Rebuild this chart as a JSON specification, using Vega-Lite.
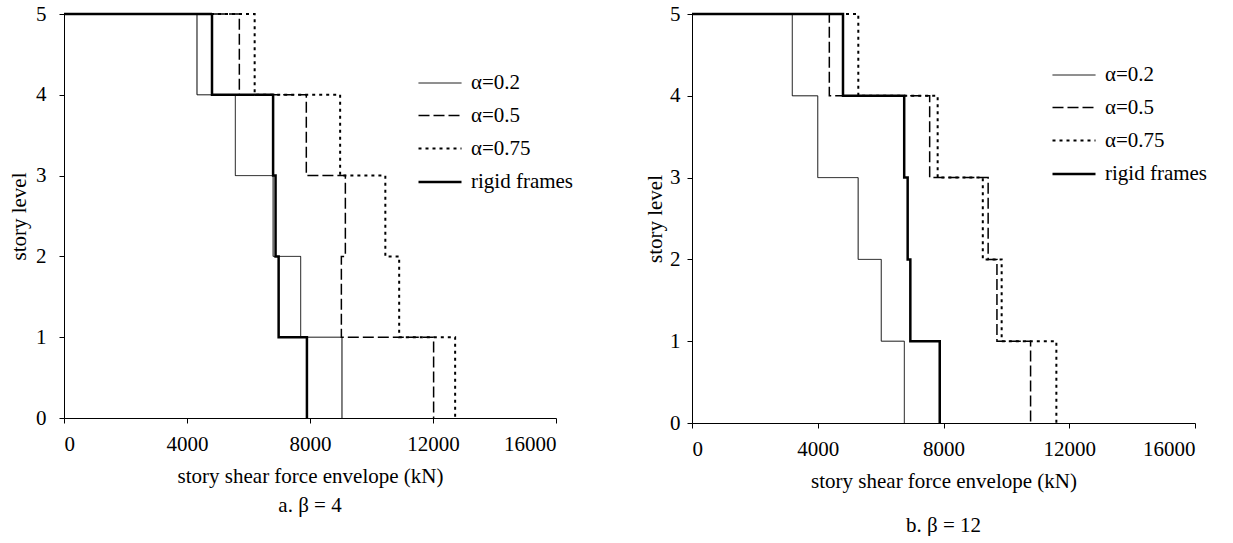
{
  "$schema": "https://vega.github.io/schema/vega-lite/v6.json",
  "background": "white",
  "padding": {"left": 8, "top": 3, "right": 5, "bottom": 0},
  "config": {
    "font": "Liberation Serif",
    "view": {"stroke": null},
    "axis": {
      "labelFont": "Liberation Serif", "titleFont": "Liberation Serif",
      "labelFontSize": 21, "titleFontSize": 21, "titleFontWeight": "normal",
      "labelColor": "black", "titleColor": "black", "domainColor": "black", "tickColor": "black",
      "grid": false, "tickSize": 5, "domainWidth": 1, "tickWidth": 1
    },
    "legend": {
      "labelFont": "Liberation Serif", "labelFontSize": 21, "labelColor": "black",
      "symbolType": "stroke", "symbolStrokeColor": "black", "symbolSize": 1849,
      "labelOffset": 8, "rowPadding": -7, "orient": "none", "title": null
    },
    "title": {"font": "Liberation Serif", "fontSize": 21, "fontWeight": "normal", "color": "black"}
  },
  "datasets": {
    "beta4": [
      {"series": "α=0.2", "level": 5, "shear": 0},
      {"series": "α=0.2", "level": 4, "shear": 4325},
      {"series": "α=0.2", "level": 3, "shear": 5572},
      {"series": "α=0.2", "level": 2, "shear": 6800},
      {"series": "α=0.2", "level": 1, "shear": 7697},
      {"series": "α=0.2", "level": 0, "shear": 9040},
      {"series": "α=0.5", "level": 5, "shear": 0},
      {"series": "α=0.5", "level": 4, "shear": 5702},
      {"series": "α=0.5", "level": 3, "shear": 7880},
      {"series": "α=0.5", "level": 2, "shear": 9150},
      {"series": "α=0.5", "level": 1, "shear": 9020},
      {"series": "α=0.5", "level": 0, "shear": 12020},
      {"series": "α=0.75", "level": 5, "shear": 0},
      {"series": "α=0.75", "level": 4, "shear": 6200},
      {"series": "α=0.75", "level": 3, "shear": 8980},
      {"series": "α=0.75", "level": 2, "shear": 10450},
      {"series": "α=0.75", "level": 1, "shear": 10900},
      {"series": "α=0.75", "level": 0, "shear": 12720},
      {"series": "rigid frames", "level": 5, "shear": 0},
      {"series": "rigid frames", "level": 4, "shear": 4813},
      {"series": "rigid frames", "level": 3, "shear": 6800},
      {"series": "rigid frames", "level": 2, "shear": 6880},
      {"series": "rigid frames", "level": 1, "shear": 6980},
      {"series": "rigid frames", "level": 0, "shear": 7900}
    ],
    "beta12": [
      {"series": "α=0.2", "level": 5, "shear": 0},
      {"series": "α=0.2", "level": 4, "shear": 3190},
      {"series": "α=0.2", "level": 3, "shear": 4000},
      {"series": "α=0.2", "level": 2, "shear": 5285},
      {"series": "α=0.2", "level": 1, "shear": 6020},
      {"series": "α=0.2", "level": 0, "shear": 6754},
      {"series": "α=0.5", "level": 5, "shear": 0},
      {"series": "α=0.5", "level": 4, "shear": 4368},
      {"series": "α=0.5", "level": 3, "shear": 7560},
      {"series": "α=0.5", "level": 2, "shear": 9420},
      {"series": "α=0.5", "level": 1, "shear": 9700},
      {"series": "α=0.5", "level": 0, "shear": 10770},
      {"series": "α=0.75", "level": 5, "shear": 0},
      {"series": "α=0.75", "level": 4, "shear": 5290},
      {"series": "α=0.75", "level": 3, "shear": 7814},
      {"series": "α=0.75", "level": 2, "shear": 9250},
      {"series": "α=0.75", "level": 1, "shear": 9850},
      {"series": "α=0.75", "level": 0, "shear": 11590},
      {"series": "rigid frames", "level": 5, "shear": 0},
      {"series": "rigid frames", "level": 4, "shear": 4803},
      {"series": "rigid frames", "level": 3, "shear": 6750},
      {"series": "rigid frames", "level": 2, "shear": 6860},
      {"series": "rigid frames", "level": 1, "shear": 6945},
      {"series": "rigid frames", "level": 0, "shear": 7880}
    ]
  },
  "hconcat": [
    {
      "width": 492, "height": 404,
      "data": {"name": "beta4"},
      "title": {"text": "a. β = 4", "orient": "bottom", "anchor": "middle", "offset": 9},
      "mark": {"type": "line", "interpolate": "step-after", "color": "black", "strokeCap": "butt"},
      "encoding": {
        "x": {"field": "shear", "type": "quantitative", "scale": {"domain": [0, 16000], "nice": false},
              "axis": {"values": [0, 4000, 8000, 12000, 16000], "format": "d", "title": "story shear force envelope (kN)", "labelPadding": 10, "titlePadding": 11}},
        "y": {"field": "level", "type": "quantitative", "scale": {"domain": [0, 5], "nice": false},
              "axis": {"values": [0, 1, 2, 3, 4, 5], "title": "story level", "labelPadding": 13, "titlePadding": 6}},
        "order": {"field": "level", "sort": "descending"},
        "strokeDash": {"field": "series", "type": "nominal",
          "scale": {"domain": ["α=0.2", "α=0.5", "α=0.75", "rigid frames"], "range": [[1, 0], [11, 4], [3, 4], [1, 0]]},
          "legend": {"legendX": 353, "legendY": 47}},
        "strokeWidth": {"field": "series", "type": "ordinal",
          "scale": {"domain": ["α=0.2", "α=0.5", "α=0.75", "rigid frames"], "range": [1, 2.5, 2.5, 3]},
          "legend": {"legendX": 353, "legendY": 47}}
      }
    },
    {
      "width": 503, "height": 409,
      "data": {"name": "beta12"},
      "title": {"text": "b. β = 12", "orient": "bottom", "anchor": "middle", "offset": 24},
      "mark": {"type": "line", "interpolate": "step-after", "color": "black", "strokeCap": "butt"},
      "encoding": {
        "x": {"field": "shear", "type": "quantitative", "scale": {"domain": [0, 16000], "nice": false},
              "axis": {"values": [0, 4000, 8000, 12000, 16000], "format": "d", "title": "story shear force envelope (kN)", "labelPadding": 10, "titlePadding": 11}},
        "y": {"field": "level", "type": "quantitative", "scale": {"domain": [0, 5], "nice": false},
              "axis": {"values": [0, 1, 2, 3, 4, 5], "title": "story level", "labelPadding": 7, "titlePadding": 4}},
        "order": {"field": "level", "sort": "descending"},
        "strokeDash": {"field": "series", "type": "nominal",
          "scale": {"domain": ["α=0.2", "α=0.5", "α=0.75", "rigid frames"], "range": [[1, 0], [11, 4], [3, 4], [1, 0]]},
          "legend": {"legendX": 359, "legendY": 39}},
        "strokeWidth": {"field": "series", "type": "ordinal",
          "scale": {"domain": ["α=0.2", "α=0.5", "α=0.75", "rigid frames"], "range": [1, 2.5, 2.5, 3]},
          "legend": {"legendX": 359, "legendY": 39}}
      }
    }
  ],
  "spacing": 70,
  "resolve": {
    "scale": {"strokeDash": "independent", "strokeWidth": "independent"},
    "legend": {"strokeDash": "independent", "strokeWidth": "independent"}
  }
}
